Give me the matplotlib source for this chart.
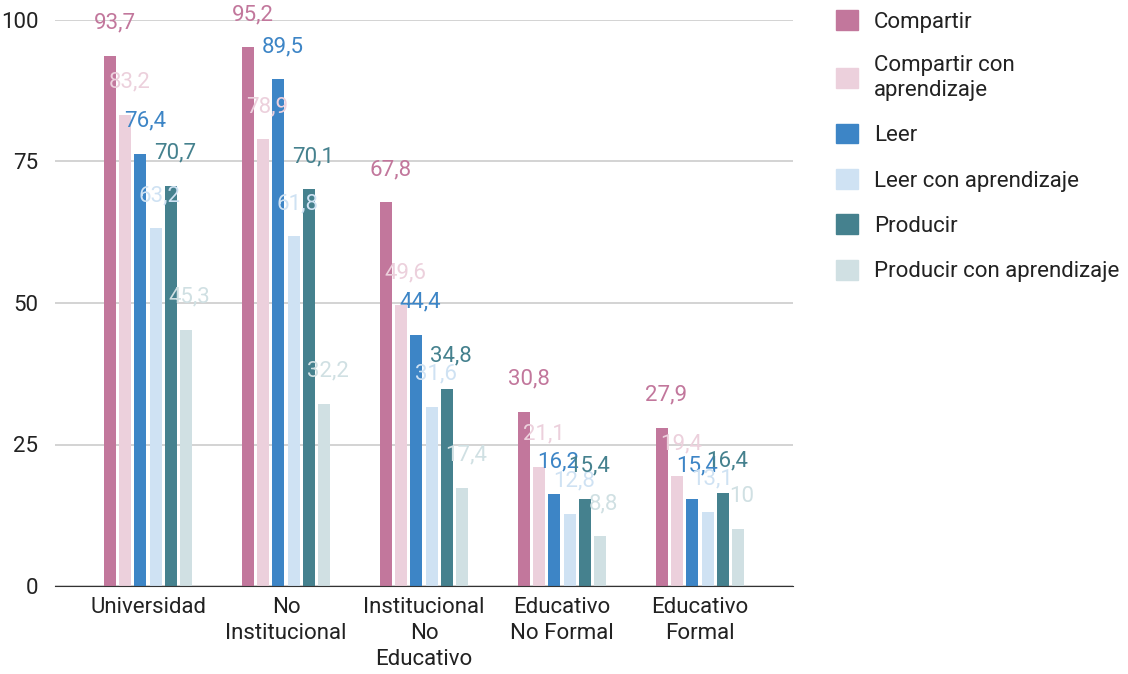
import matplotlib
matplotlib.use("Agg")
import matplotlib.pyplot as plt
from matplotlib.patches import Patch

plt.rcParams["font.family"] = ["Roboto", "DejaVu Sans"]

categorias = ["Universidad", "No\nInstitucional", "Institucional\nNo\nEducativo",
              "Educativo\nNo Formal", "Educativo\nFormal"]
series = ["Compartir", "Compartir con\naprendizaje", "Leer", "Leer con aprendizaje",
          "Producir", "Producir con aprendizaje"]
compartir = [93.7, 95.2, 67.8, 30.8, 27.9]
compartir_apr = [83.2, 78.9, 49.6, 21.1, 19.4]
leer = [76.4, 89.5, 44.4, 16.2, 15.4]
leer_apr = [63.2, 61.8, 31.6, 12.8, 13.1]
producir = [70.7, 70.1, 34.8, 15.4, 16.4]
producir_apr = [45.3, 32.2, 17.4, 8.8, 10]
colores = ["#c2779c", "#ecd0dc", "#3d85c6", "#cfe2f3", "#45818e", "#d0e0e3"]

valores = [compartir, compartir_apr, leer, leer_apr, producir, producir_apr]

fig = plt.figure(figsize=(11.28, 6.74), dpi=100)
ax = fig.add_axes([55 / 1128, 88 / 674, 738 / 1128, 566 / 674])

paso = 0.109
ancho = 0.087
for i, (vals, col) in enumerate(zip(valores, colores)):
    xs = [g + (i - 2.5) * paso for g in range(len(categorias))]
    ax.bar(xs, vals, width=ancho, color=col, zorder=3)
    for x, v in zip(xs, vals):
        txt = f"{v:g}".replace(".", ",")
        ax.annotate(txt, (x, v), xytext=(3, 16), textcoords="offset points",
                    ha="center", va="bottom", color=col, fontsize=16,
                    zorder=4, annotation_clip=False)

ax.set_xlim(-0.674, 4.674)
ax.set_ylim(0, 100)
ax.set_yticks([0, 25, 50, 75, 100])
ax.set_xticks(range(len(categorias)))
ax.set_xticklabels(categorias, fontsize=16, color="#222222", linespacing=1.3)
ax.tick_params(axis="y", labelsize=16, colors="#222222", length=0, pad=12)
ax.tick_params(axis="x", length=0, pad=8)
ax.grid(axis="y", color="#cccccc", linewidth=1.2, zorder=0)
for s in ["top", "right", "left"]:
    ax.spines[s].set_visible(False)
ax.spines["bottom"].set_color("#333333")
ax.spines["bottom"].set_zorder(5)

handles = [Patch(facecolor=c, edgecolor=c) for c in colores]
fig.legend(handles, series, loc="upper left", bbox_to_anchor=(816 / 1128, 1 + 10 / 674),
           frameon=False, fontsize=16, handlelength=1.0, handleheight=1.0,
           labelspacing=1.03, handletextpad=0.7, labelcolor="#222222")

fig.savefig("out.png", dpi=100)
